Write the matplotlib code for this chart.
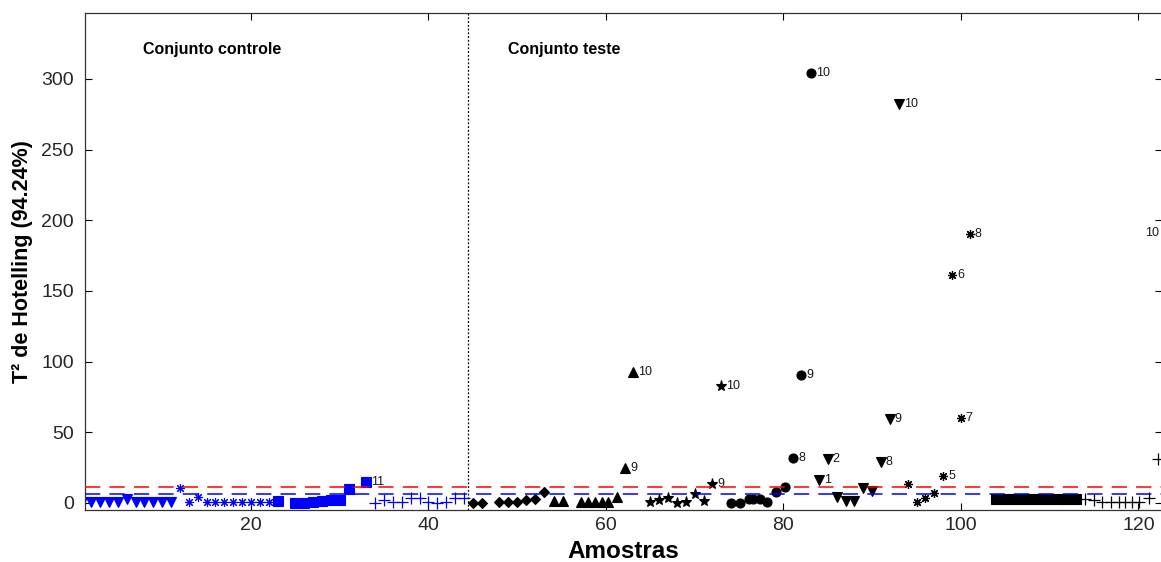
import matplotlib
matplotlib.use("Agg")
import matplotlib.pyplot as plt

plt.rcParams['font.family'] = ['Liberation Sans', 'DejaVu Sans']

# limites (T2 95%? e 99%)
lim_red = 11.5
lim_blue = 6.4
split_x = 44.5

# conjunto controle (azul)
ctrl_tri_x = [1, 2, 3, 4, 5, 6, 7, 8, 9, 10, 11]
ctrl_tri_y = [0.8, 0.8, 0.8, 0.8, 0.8, 3.0, 0.8, 0.8, 0.8, 0.8, 0.8]
ctrl_ast_x = [12, 13, 14, 15, 16, 17, 18, 19, 20, 21, 22]
ctrl_ast_y = [10.6, 0.7, 4.5, 0.4, 0.4, 0.4, 0.4, 0.4, 0.4, 0.4, 0.4]
ctrl_sq_x = [23, 25, 26, 27, 28, 29, 30, 31, 33]
ctrl_sq_y = [1.4, 0.0, 0.3, 0.8, 1.5, 1.8, 2.0, 9.8, 15.0]
ctrl_sq_lbl = ['', '', '', '', '', '', '', '', '11']
ctrl_plus_x = [34, 35, 36, 37, 38, 39, 40, 41, 42, 43, 44]
ctrl_plus_y = [0.2, 1.8, 0.5, 1.0, 3.8, 3.8, 0.8, 0.0, 1.0, 3.8, 3.8]

# conjunto teste (preto)
dia_x = [45, 46, 48, 49, 50, 51, 52, 53]
dia_y = [0.3, 0.2, 0.5, 0.5, 0.8, 2.2, 2.5, 8.0]
tri_x = [54.1, 55.2, 57.2, 58.0, 58.8, 59.5, 60.2, 61.2, 62.2, 63.1]
tri_y = [1.6, 1.6, 0.8, 0.8, 0.8, 0.8, 0.8, 4.0, 24.7, 92.5]
tri_lbl = ['', '', '', '', '', '', '', '', '9', '10']
star_x = [65, 66, 67, 68, 69, 70, 71, 72, 73]
star_y = [0.5, 2.0, 3.4, 0.3, 0.6, 6.6, 1.5, 13.6, 82.6]
star_lbl = ['', '', '', '', '', '', '', '9', '10']
circ_x = [74.1, 75.1, 76.1, 76.6, 77.3, 78.1, 79.2, 80.2, 81.1, 82.0, 83.1]
circ_y = [0.3, 0.3, 2.6, 3.0, 2.6, 1.0, 7.8, 11.0, 31.8, 90.4, 304.4]
circ_lbl = ['', '', '', '', '', '', '', '', '8', '9', '10']
tdn_x = [84, 85, 86, 87, 88, 89, 90, 91, 92, 93]
tdn_y = [16.0, 31.0, 4.5, 1.4, 1.4, 10.5, 8.7, 29.0, 59.5, 282.5]
tdn_lbl = ['1', '2', '', '', '', '', '', '8', '9', '10']
ast_x = [94, 95, 96, 97, 98, 99, 100, 101]
ast_y = [13.2, 0.5, 3.3, 7.3, 19.3, 161.0, 60.0, 190.0]
ast_lbl = ['', '', '', '', '5', '6', '7', '8']
sq_x = [104, 105, 106, 107, 108, 109, 110, 111, 112, 113]
sq_y = [3.0, 3.0, 3.0, 3.0, 3.0, 3.0, 3.0, 3.0, 3.0, 3.0]
plus_x = [114, 115, 115.9, 116.9, 117.8, 118.5, 119.3, 120.1, 121.2, 122.2]
plus_y = [2.5, 2.0, 1.0, 1.0, 1.0, 0.6, 1.0, 0.6, 3.5, 31.0]
extra_lbl = [(120.75, 191.0, '10')]

asterisk = (8, 2, 0)

fig = plt.figure(figsize=(11.61, 5.62), dpi=100)
ax = fig.add_axes([85 / 1161, 52 / 562, 1077 / 1161, 497 / 562])


def draw(x, y, marker, color, size, labels=None, mew=0.8):
    ax.plot(x, y, linestyle='none', marker=marker, color=color,
            markersize=size, markeredgewidth=mew, zorder=2)
    if labels:
        for xi, yi, t in zip(x, y, labels):
            if t:
                ax.annotate(t, (xi, yi), xytext=(3.5, 0), textcoords='offset points',
                            va='center', ha='left', fontsize=9, color='#1a1a1a')


blue = '#0000ff'
draw(ctrl_tri_x, ctrl_tri_y, 'v', blue, 7.5)
draw(ctrl_ast_x, ctrl_ast_y, asterisk, blue, 6.5, mew=0.8)
draw(ctrl_sq_x, ctrl_sq_y, 's', blue, 7, ctrl_sq_lbl)
draw(ctrl_plus_x, ctrl_plus_y, '+', blue, 8, mew=0.9)

k = 'black'
draw(dia_x, dia_y, 'D', k, 5.5)
draw(tri_x, tri_y, '^', k, 7.5, tri_lbl)
draw(star_x, star_y, '*', k, 8, star_lbl)
draw(circ_x, circ_y, 'o', k, 6.5, circ_lbl)
draw(tdn_x, tdn_y, 'v', k, 7.5, tdn_lbl)
draw(ast_x, ast_y, asterisk, k, 6.5, ast_lbl, mew=0.9)
draw(sq_x, sq_y, 's', k, 7)
draw(plus_x, plus_y, '+', k, 8, mew=0.9)
for xe, ye, t in extra_lbl:
    ax.text(xe, ye, t, fontsize=9, va='center', ha='left', color='#1a1a1a')

red_line = ax.axhline(lim_red, color='#ff0000', lw=1.1, zorder=3)
red_line.set_dashes((10, 6))
blue_line = ax.axhline(lim_blue, color=blue, lw=1.1, zorder=3)
blue_line.set_dashes((10, 6))
ax.axvline(split_x, color='black', lw=0.9, linestyle=(0, (1.5, 1.5)), zorder=1)

ax.text(7.8, 321, 'Conjunto controle', fontsize=11.5, fontweight='bold', va='center')
ax.text(49, 321, 'Conjunto teste', fontsize=11.5, fontweight='bold', va='center')

ax.set_xlim(1.3, 122.65)
ax.set_ylim(-5, 346.7)
ax.set_xticks([20, 40, 60, 80, 100, 120])
ax.set_yticks([0, 50, 100, 150, 200, 250, 300])
ax.tick_params(direction='in', top=True, right=True, length=5, width=0.8,
               labelsize=14, labelcolor='#262626')
ax.tick_params(axis='x', pad=5)
ax.tick_params(axis='y', pad=8)

for s in ax.spines.values():
    s.set_color('#333333')
    s.set_linewidth(0.9)

ax.set_xlabel('Amostras', fontsize=17.5, fontweight='bold', labelpad=4)
ax.set_ylabel('T² de Hotelling (94.24%)', fontsize=15.5, fontweight='bold', labelpad=6)

fig.savefig('out.png', dpi=100)
